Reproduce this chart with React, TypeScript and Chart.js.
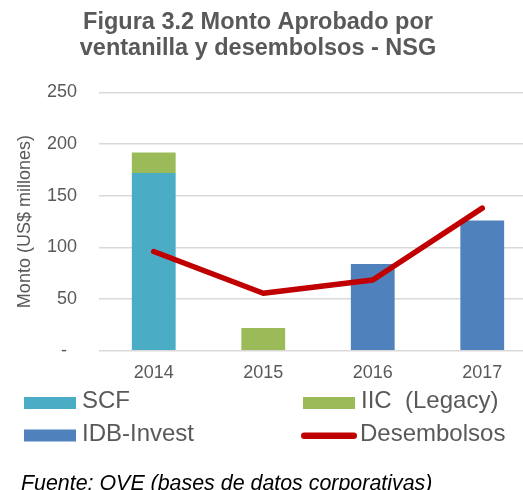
import React, { useEffect, useRef } from "react";
import { Chart, registerables } from "chart.js";

Chart.register(...registerables);

const years = ["2014", "2015", "2016", "2017"];
const scf = [172, null, null, null];
const iic = [20, 22, null, null];
const idbInvest = [null, null, 84, 126];
const desembolsos = [96, 55.6, 68.5, 138];
const yTicks = [0, 50, 100, 150, 200, 250];

const titleLines = ["Figura 3.2 Monto Aprobado por", "ventanilla y desembolsos - NSG"];
const yAxisTitle = "Monto (US$ millones)";
const footnote = "Fuente: OVE (bases de datos corporativas)";

const FONT = '"Liberation Sans", Arial, sans-serif';
const GREY = "#595959";
const SHIFT = 21; // canvas is shifted left by this many px

const legendPlugin = {
  id: "gridLegend",
  afterDraw(chart: any) {
    const ctx = chart.ctx;
    const ds = chart.data.datasets;
    const find = (l: string) => ds.find((d: any) => d.label === l);
    const items = [
      { d: find("SCF"), x: 24, y: 403, tx: 82 },
      { d: find("IIC  (Legacy)"), x: 303, y: 403, tx: 361 },
      { d: find("IDB-Invest"), x: 24, y: 435.5, tx: 82 },
      { d: find("Desembolsos"), x: 301, y: 435.7, tx: 360 },
    ];
    ctx.save();
    ctx.font = `24px ${FONT}`;
    ctx.textBaseline = "middle";
    ctx.textAlign = "left";
    for (const it of items) {
      if (!it.d) continue;
      const x = it.x + SHIFT;
      if (it.d.type === "line") {
        ctx.strokeStyle = it.d.borderColor;
        ctx.lineWidth = 6.5;
        ctx.lineCap = "round";
        ctx.beginPath();
        ctx.moveTo(x + 3.25, it.y);
        ctx.lineTo(x + 56 - 3.25, it.y);
        ctx.stroke();
      } else {
        ctx.fillStyle = it.d.backgroundColor;
        ctx.fillRect(x, it.y - 6, 52, 12);
      }
      ctx.fillStyle = GREY;
      ctx.fillText(it.d.label, it.tx + SHIFT, it.y - 1.3);
    }
    ctx.font = `italic 21.4px ${FONT}`;
    ctx.fillStyle = "#000000";
    ctx.textBaseline = "alphabetic";
    ctx.fillText(footnote, 21 + SHIFT, 490);
    ctx.restore();
  },
};

export default function App() {
  const ref = useRef<HTMLCanvasElement | null>(null);

  useEffect(() => {
    if (!ref.current) return;
    const chart = new Chart(ref.current, {
      type: "bar",
      data: {
        labels: years,
        datasets: [
          {
            type: "line",
            label: "Desembolsos",
            data: desembolsos,
            borderColor: "#C00000",
            backgroundColor: "#C00000",
            borderWidth: 5.5,
            pointRadius: 0,
            pointHoverRadius: 0,
            borderCapStyle: "round",
            borderJoinStyle: "round",
            tension: 0,
            fill: false,
            stack: "line",
            order: 0,
          } as any,
          {
            label: "SCF",
            data: scf,
            backgroundColor: "#4BACC6",
            stack: "bars",
            order: 1,
          },
          {
            label: "IIC  (Legacy)",
            data: iic,
            backgroundColor: "#9BBB59",
            stack: "bars",
            order: 1,
          },
          {
            label: "IDB-Invest",
            data: idbInvest,
            backgroundColor: "#4F81BD",
            stack: "bars",
            order: 1,
          },
        ],
      },
      options: {
        responsive: false,
        animation: false,
        events: [],
        datasets: { bar: { barPercentage: 0.4, categoryPercentage: 1.0 } },
        layout: { padding: { left: 0, right: 2, top: 0, bottom: 109.3 } },
        plugins: {
          legend: { display: false },
          tooltip: { enabled: false },
          title: {
            display: true,
            text: titleLines,
            color: GREY,
            font: { family: FONT, size: 23.5, weight: "bold", lineHeight: 26 / 23.5 },
            padding: { top: 9.5, bottom: 31 },
          },
        },
        scales: {
          x: {
            stacked: true,
            grid: { display: false, drawTicks: false },
            border: { display: false },
            ticks: { color: GREY, font: { family: FONT, size: 18 }, padding: 12 },
            afterFit: (s: any) => {
              s.height = 30;
            },
          },
          y: {
            stacked: true,
            min: 0,
            max: 250,
            afterBuildTicks: (s: any) => {
              s.ticks = yTicks.map((v) => ({ value: v }));
            },
            ticks: {
              color: GREY,
              font: { family: FONT, size: 18 },
              padding: 22,
              callback: (v: any) => (Number(v) === 0 ? "-  " : String(v)),
            },
            grid: { color: "#D9D9D9", lineWidth: 1.5, drawTicks: false },
            border: { display: false },
            title: {
              display: true,
              text: yAxisTitle,
              color: GREY,
              font: { family: FONT, size: 18 },
              padding: { top: 35, bottom: 0 },
            },
            afterFit: (s: any) => {
              s.width = 120;
            },
          },
        },
      },
      plugins: [legendPlugin],
    });
    return () => chart.destroy();
  }, []);

  return (
    <div
      style={{
        position: "fixed",
        left: 0,
        top: 0,
        width: 523,
        height: 490,
        overflow: "hidden",
        background: "#ffffff",
      }}
    >
      <canvas
        ref={ref}
        width={560}
        height={490}
        style={{ position: "absolute", left: -SHIFT, top: 0, width: 560, height: 490 }}
      />
    </div>
  );
}
